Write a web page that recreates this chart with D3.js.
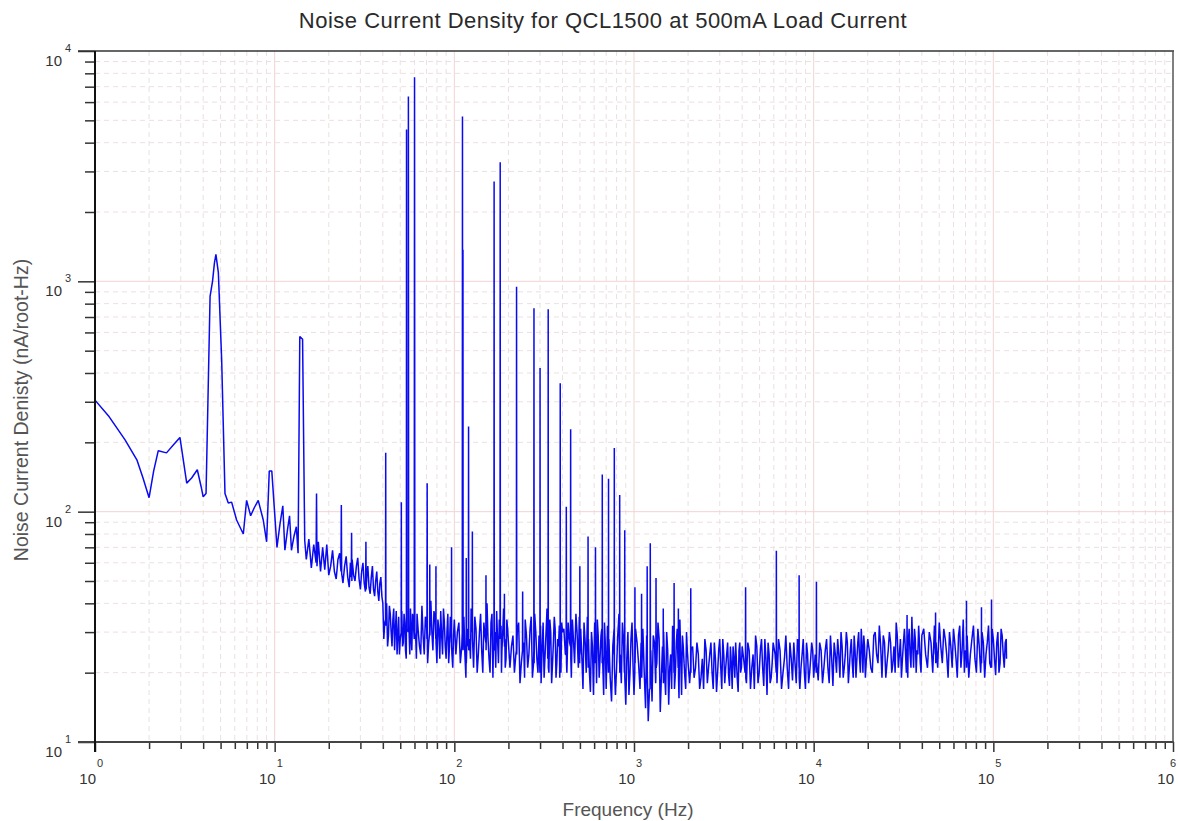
<!DOCTYPE html>
<html>
<head>
<meta charset="utf-8">
<script src="https://cdn.jsdelivr.net/npm/d3@7"></script>
<style>
  body { margin: 0; background: #fff; }
  svg text { font-family: "Liberation Sans", Arial, sans-serif; }
</style>
</head>
<body>
<svg id="chart" width="1178" height="821"></svg>
<script>
// noise density readings, [frequency Hz, nA/rtHz]
var lowBand = [[1.0,305],[1.2,258],[1.47,205],[1.71,168],[1.85,140],[2.0,115],[2.12,150],[2.25,184],[2.5,180],[2.75,196],[2.97,210],[3.24,133],[3.45,140],[3.71,152],[3.9,128],[4.0,116],[4.15,120],[4.37,860],[4.51,1000],[4.62,1200],[4.71,1310],[4.86,1090],[5.07,456],[5.29,120],[5.52,109],[5.76,110],[6.14,92],[6.69,80],[6.98,112],[7.35,96],[7.7,104],[8.1,112],[8.64,92],[9.02,74],[9.33,150],[9.64,150],[10.3,70],[10.7,88],[11.1,106],[11.4,68],[11.8,84],[12.1,96],[12.4,68],[12.8,78],[13.2,86],[13.5,66],[13.8,576],[14.3,560],[14.7,75]];
var bandA = [[15,62],[15.5,76],[16,57],[16.5,72],[17.5,74],[18,55],[18.5,70],[19,56],[19.5,72],[20,53],[20.5,58],[21,68],[21.5,55],[22,51],[22.5,62],[23,66],[24,49],[24.5,58],[25,64],[25.5,52],[26,47],[26.4,60],[27,62],[27.5,53],[28,50],[28.5,58],[29,63],[29.5,51],[30,46],[30.5,55],[31,60],[31.5,49],[32,45],[32.6,53],[33,58],[33.5,47],[34,44],[34.5,52],[35,58],[35.5,46],[36,43],[36.5,50],[37,55],[37.5,45],[38,41],[38.5,49],[39,52],[39.5,43],[40,40]];
var bandB = [[41,33],[42,40],[43,29],[44,36],[45,26],[46,38],[47,31],[48,24],[49,35],[50,28],[51,37],[52,27],[53,33],[54,23],[56,30],[57,38],[58,25],[59,34],[61,28],[62,36],[64,26],[66,39],[68,24],[70,33],[72,27],[74,41],[76,25],[78,35],[80,22],[82,31],[84,37],[86,24],[88,33],[90,23],[92,36],[94,26],[96,30],[98,21],[100,34]];
var bandB2 = [[40.5,28],[41.8,36],[42.5,26],[43.5,39],[44.5,30],[45.5,34],[46.5,25],[47.5,37],[48.5,29],[49.5,24],[51.5,26],[52.5,36],[53.5,25],[56.5,24],[57.5,29],[58.5,36],[61.5,23],[63,30],[65,24],[67,29],[69,35],[71,22],[75,30],[77,37],[81,34],[83,23],[85,29],[87,38],[89,26],[91,30],[93,22],[95,35],[97,24],[99,29]];
var bandC = [[104,30],[108,22],[113,35],[116,19],[121.5,28],[124,38],[128,21],[132,31],[136,24],[140,36],[144,20],[148,29],[152,40],[156,23],[160,33],[164,19],[168,30],[172,37],[176,22],[182,32],[184,25],[188,38],[192,21],[196,34],[200,27]];
var bandC2 = [[102,24],[106,33],[110,26],[114.5,24],[118,31],[123,23],[130,35],[134,20],[138,30],[142,25],[146,33],[154,28],[158,20],[162,36],[165,26],[170,21],[174,28],[178,34],[183,20],[186,30],[191,28],[194,23],[198,31]];
var bandD = [[208,26],[216,20],[224,30],[232,18],[243,27],[248,34],[256,21],[264,31],[272,19],[280,36],[288,23],[296,29],[304,18],[312,33],[320,24],[328,38],[336,20],[344,30],[352,22],[360,35],[368,19],[376,28],[384,32],[392,20],[400,30]];
var bandD2 = [[204,21],[212,29],[220,24],[228,33],[236,22],[246,19],[252,29],[260,24],[268,35],[276,22],[284,30],[292,20],[302,32],[308,25],[316,19],[324,30],[331,23],[340,34],[348,18],[356,27],[364,31],[372,22],[380,26],[386,19],[396,33]];
var bandE = [[415,24],[430,33],[448,19],[460,28],[475,36],[490,21],[505,31],[520,17],[535,27],[550,35],[565,20],[580,30],[595,16],[614,26],[625,34],[640,19],[655,29],[670,22],[685,33],[700,17],[725,28],[750,15],[775,31],[800,21],[825,36],[850,18],[875,27],[900,14.5],[925,30],[950,20],[975,33],[1000,16]];
var bandE2 = [[407,31],[423,20],[438,27],[454,34],[467,22],[482,30],[496,35],[512,24],[527,33],[542,20],[558,28],[572,16.5],[587,26],[604,33],[619,18],[632,29],[647,23],[662,31],[678,16],[692,27],[712,32],[737,19],[762,26],[788,16],[812,29],[838,24],[862,33],[884,20],[912,23],[937,16],[962,28],[987,22]];
var bandF = [[1040,27],[1080,17],[1120,31],[1160,14],[1200,12.3],[1240,25],[1280,29],[1320,18],[1360,33],[1400,13.5],[1440,26],[1480,20],[1520,30],[1560,14.5],[1600,24],[1640,32],[1680,17],[1720,27],[1760,21],[1800,34],[1840,16],[1880,26],[1920,19],[1960,30],[2000,22]];
var bandF2 = [[1020,31],[1060,22],[1095,27],[1140,20],[1176,29],[1220,17],[1260,15],[1300,27],[1340,22],[1380,28],[1420,19],[1462,30],[1500,16],[1540,25],[1580,21],[1620,17],[1660,26],[1700,20],[1740,31],[1780,15.5],[1820,24],[1860,29],[1900,22],[1940,17],[1980,25]];
var bandG = [[2080,25],[2160,19],[2240,27],[2320,17],[2400,23],[2480,28],[2560,18],[2640,24],[2720,20],[2800,27],[2880,16.5],[2960,25],[3040,21],[3120,28],[3200,18],[3280,24],[3360,19.5],[3440,26],[3520,17],[3600,23],[3680,27],[3760,18.5],[3840,25],[3920,20],[4000,26]];
var bandG2 = [[2040,18],[2120,26],[2200,21],[2280,24],[2360,19],[2440,17],[2520,25],[2600,21],[2680,27],[2760,17],[2840,23],[2920,20],[3000,28],[3080,17],[3160,24],[3240,21],[3320,27],[3400,17.5],[3480,22],[3560,26],[3640,19],[3720,22],[3800,16.5],[3880,27],[3960,21]];
var bandH = [[4150,20],[4300,27],[4450,17],[4600,24],[4750,29],[4900,18],[5050,25],[5200,21],[5350,28],[5500,16],[5650,24],[5800,19],[5950,27],[6250,18],[6500,25],[6750,20],[7000,29],[7250,17],[7500,23],[7750,27],[8000,18],[8250,25],[8500,21],[8750,28],[9000,17],[9250,24],[9500,20],[9750,27],[10000,19]];
var bandH2 = [[4075,23],[4225,18],[4375,25],[4525,21],[4675,17],[4825,26],[4975,20],[5125,28],[5275,17.5],[5425,23],[5575,27],[5725,18],[5875,22],[6100,24],[6375,28],[6625,17],[6875,23],[7125,21],[7375,27],[7625,18.5],[7875,22],[8125,28],[8375,17],[8625,24],[8875,20],[9125,27],[9375,18],[9625,23],[9875,25]];
var bandI = [[10400,22],[10800,27],[11200,18],[11600,25],[12000,21],[12400,29],[12800,17.5],[13200,24],[13600,28],[14000,19],[14400,26],[14800,21],[15200,30],[15600,18],[16000,25],[16400,22],[16800,29],[17200,19],[17600,27],[18000,23],[18400,31],[18800,20],[19200,26],[19600,22],[20000,28]];
var bandI2 = [[10200,24],[10600,18.5],[11000,25],[11400,21],[11800,28],[12200,18],[12600,23],[13000,27],[13400,20],[13800,24],[14200,30],[14600,19],[15000,24],[15400,27],[15800,21],[16200,28],[16600,19],[17000,25],[17400,23],[17800,30],[18200,20],[18600,26],[19000,29],[19400,19],[19800,25]];
var bandJ = [[20800,21],[21600,29],[22400,24],[23200,32],[24000,19],[24800,27],[25600,22],[26400,30],[27200,20],[28000,26],[28800,33],[29600,21],[30400,28],[31200,23],[32000,31],[32800,20],[33600,27],[34400,24],[35200,35],[36000,21],[36800,28],[37600,25],[38400,32],[39200,22],[40000,29]];
var bandJ2 = [[20400,25],[21200,20],[22000,30],[22800,22],[23600,26],[24400,29],[25200,19],[26000,25],[26800,27],[27600,22],[28400,20],[29200,29],[30000,24],[30800,19],[31600,27],[32400,25],[33400,19],[34000,31],[34800,21],[35600,26],[36400,31],[37200,20],[38000,24],[38800,27],[39600,20]];
var bandK = [[42000,24],[44000,30],[46000,20],[48000,27],[50000,33],[52000,22],[54000,28],[56000,19],[58000,26],[60000,31],[62000,23],[64000,29],[66000,21],[68000,34],[70000,25],[73000,19],[76000,28],[79000,23],[82000,31],[85000,20],[88000,27],[91000,24],[94000,32],[97000,21],[100000,28],[103000,19.5],[106000,30],[109000,22],[112000,29],[115000,21],[118000,28],[118400,23]];
var bandK2 = [[41000,31],[43000,21],[45000,27],[47000,32],[49000,21],[51000,26],[53000,31],[55000,24],[57000,30],[59000,21],[61000,27],[63000,19],[65000,32],[67000,25],[69000,20],[71500,29],[74500,24],[77500,32],[80500,20],[83500,26],[86500,30],[89500,19],[92500,27],[95500,22],[98500,31],[101500,23],[104500,27],[107500,20],[110500,31],[113500,24],[116500,27]];

// line-frequency pickup (55.5 Hz and 60 Hz families) and other narrow spurs
var spikes = [
  [17.0,60],[17.1,120],[17.2,58],
  [23.4,55],[23.5,107],[23.6,54],
  [26.7,52],[26.8,81],[26.9,50],
  [32.1,47],[32.2,74],[32.3,46],
  [41.4,34],[41.5,180],[41.6,32],
  [50.6,30],[50.7,110],[50.8,29],
  [54.1,29],[54.2,4560],[54.3,30],
  [55.4,31],[55.5,6340],[55.7,30],
  [59.8,28],[60.05,7690],[60.3,30],
  [70.4,28],[70.6,133],[70.8,27],
  [72.9,30],[73,59],[73.1,29],
  [78.9,28],[79,58],[79.1,27],
  [96.4,27],[96.5,70],[96.6,26],
  [110.7,30],[111,5190],[111.3,28],
  [111.5,27],[111.7,1370],[111.9,25],
  [116.4,24],[116.5,63],[116.6,22],
  [119.7,26],[120,234],[120.3,25],
  [125.8,30],[126,82],[126.2,28],
  [149.8,27],[150,53],[150.2,25],
  [166.2,25],[166.5,2710],[166.8,27],
  [179.6,30],[180,3290],[180.4,28],
  [189.8,27],[190,44],[190.2,26],
  [221.5,25],[222,948],[222.5,24],
  [239.5,25],[240,45],[240.5,26],
  [277,25],[277.5,764],[278,22],
  [299.5,20],[300,420],[300.5,22],
  [332.5,24],[333,757],[333.5,21],
  [388,22],[388.5,361],[389,25],
  [419,24],[420,105],[421,22],
  [443,26],[444,228],[445,23],
  [498.5,22],[499.5,58],[500.5,24],
  [554,25],[555,78],[556,21],
  [609.5,22],[610.5,70],[611.5,24],
  [665,22],[666,145],[667,24],
  [720.5,20],[721.5,139],[722.5,23],
  [776,24],[777,189],[778,21],
  [831.5,22],[832.5,118],[833.5,20],
  [887,23],[888,83],[889,19],
  [1010,20],[1012,47],[1014,22],
  [1100,21],[1102,44],[1104,19],
  [1182,18],[1184,58],[1186,20],
  [1229,17],[1232,73],[1235,19],
  [1323,19],[1326,51.5],[1329,21],
  [1452,20],[1455,38],[1458,18],
  [1669,20],[1672,49],[1675,22],
  [1763,21],[1766,38],[1769,19],
  [2066,21],[2070,46.5],[2074,20],
  [4170,21],[4180,47],[4190,19],
  [6190,20],[6200,67.6],[6210,22],
  [8290,21],[8300,53],[8310,19],
  [10340,20],[10360,49.6],[10380,22],
  [33000,23],[33100,35.6],[33200,21],
  [47600,24],[47700,36.5],[47800,22],
  [70800,23],[70900,41],[71000,21],
  [85800,24],[85900,38.5],[86000,22],
  [97600,23],[97700,41.6],[97800,21]
];

var title = "Noise Current Density for QCL1500 at 500mA Load Current";
var xLabel = "Frequency (Hz)";
var yLabel = "Noise Current Denisty (nA/root-Hz)";
var xDecades = [0,1,2,3,4,5,6];
var yDecades = [1,2,3,4];

var svg = d3.select("#chart");
var plotL = 95, plotR = 1173, plotT = 51, plotB = 742;

var x = d3.scaleLog().domain([1, 1e6]).range([plotL, plotR]);
var y = d3.scaleLog().domain([10, 1e4]).range([plotB, plotT]);

function isDecade(v){ return Math.abs(Math.log10(v) - Math.round(Math.log10(v))) < 1e-9; }
var xTicks = x.ticks();
var yTicks = y.ticks();

// grid
var grid = svg.append("g");
grid.selectAll("line.gx").data(xTicks.filter(function(d){ return d > 1 && d < 1e6; })).enter()
  .append("line")
  .attr("x1", function(d){ return x(d); }).attr("x2", function(d){ return x(d); })
  .attr("y1", plotT).attr("y2", plotB)
  .attr("stroke", function(d){ return isDecade(d) ? "#f3d4d4" : "#ece0e0"; })
  .attr("stroke-width", 1)
  .attr("stroke-dasharray", function(d){ return isDecade(d) ? null : "5,4"; });
grid.selectAll("line.gy").data(yTicks.filter(function(d){ return d > 10 && d < 1e4; })).enter()
  .append("line")
  .attr("x1", plotL).attr("x2", plotR)
  .attr("y1", function(d){ return y(d); }).attr("y2", function(d){ return y(d); })
  .attr("stroke", function(d){ return isDecade(d) ? "#f3d4d4" : "#ece0e0"; })
  .attr("stroke-width", 1)
  .attr("stroke-dasharray", function(d){ return isDecade(d) ? null : "5,4"; });

// data trace
var trace = lowBand.concat(bandA, bandB, bandB2, bandC, bandC2, bandD, bandD2, bandE, bandE2,
    bandF, bandF2, bandG, bandG2, bandH, bandH2, bandI, bandI2, bandJ, bandJ2, bandK, bandK2, spikes)
  .sort(function(a, b){ return a[0] - b[0]; });

var line = d3.line()
  .x(function(d){ return x(d[0]); })
  .y(function(d){ return y(d[1]); });

svg.append("path")
  .datum(trace)
  .attr("d", line)
  .attr("fill", "none")
  .attr("stroke", "#0a0af0")
  .attr("stroke-width", 1.5)
  .attr("stroke-linejoin", "bevel");

// axes
var axisCol = "#333";
var xMinor = d3.axisBottom(x).tickValues(xTicks.filter(function(d){ return !isDecade(d); })).tickSize(7).tickFormat("");
var xMajor = d3.axisBottom(x).tickValues(xTicks.filter(isDecade)).tickSize(10).tickFormat("");
var yMinor = d3.axisLeft(y).tickValues(yTicks.filter(function(d){ return !isDecade(d); })).tickSize(10).tickFormat("");
var yMajor = d3.axisLeft(y).tickValues(yTicks.filter(isDecade)).tickSize(17).tickFormat("");

[xMinor, xMajor].forEach(function(ax){
  var g = svg.append("g").attr("transform", "translate(0," + plotB + ")").call(ax);
  g.select(".domain").remove();
  g.selectAll("line").attr("stroke", axisCol).attr("stroke-width", 1.5);
});
[yMinor, yMajor].forEach(function(ax){
  var g = svg.append("g").attr("transform", "translate(" + plotL + ",0)").call(ax);
  g.select(".domain").remove();
  g.selectAll("line").attr("stroke", axisCol).attr("stroke-width", 1.5);
});

svg.append("line").attr("x1", 78).attr("x2", plotR + 1).attr("y1", plotT).attr("y2", plotT)
  .attr("stroke", axisCol).attr("stroke-width", 1.5);
svg.append("line").attr("x1", 78).attr("x2", plotR + 1).attr("y1", plotB).attr("y2", plotB)
  .attr("stroke", "#444").attr("stroke-width", 2);
svg.append("line").attr("x1", plotL).attr("x2", plotL).attr("y1", plotT).attr("y2", plotB + 10)
  .attr("stroke", "#111").attr("stroke-width", 2);
svg.append("line").attr("x1", plotR).attr("x2", plotR).attr("y1", plotT).attr("y2", plotB)
  .attr("stroke", "#555").attr("stroke-width", 1.5);

// tick labels as 10 with exponent
var labCol = "#333";
xDecades.forEach(function(k){
  var px = x(Math.pow(10, k));
  svg.append("text").attr("x", px + 1).attr("y", 784).attr("text-anchor", "end")
    .attr("font-size", 15).attr("fill", labCol).text("10");
  svg.append("text").attr("x", Math.min(px + 2, 1170)).attr("y", 767).attr("text-anchor", "start")
    .attr("font-size", 11).attr("fill", labCol).text(k);
});
yDecades.forEach(function(k){
  var py = y(Math.pow(10, k));
  svg.append("text").attr("x", 62).attr("y", py + 15).attr("text-anchor", "end")
    .attr("font-size", 15).attr("fill", labCol).text("10");
  svg.append("text").attr("x", 65).attr("y", py + 1).attr("text-anchor", "start")
    .attr("font-size", 11).attr("fill", labCol).text(k);
});

// titles
svg.append("text").attr("x", 603).attr("y", 28).attr("text-anchor", "middle")
  .attr("font-size", 22).attr("letter-spacing", 0.5).attr("fill", "#2a2a2a").text(title);
svg.append("text").attr("x", 628).attr("y", 816).attr("text-anchor", "middle")
  .attr("font-size", 19).attr("fill", "#555").text(xLabel);
svg.append("text").attr("transform", "translate(28,410) rotate(-90)").attr("text-anchor", "middle")
  .attr("font-size", 19.5).attr("fill", "#555").text(yLabel);
</script>
</body>
</html>
